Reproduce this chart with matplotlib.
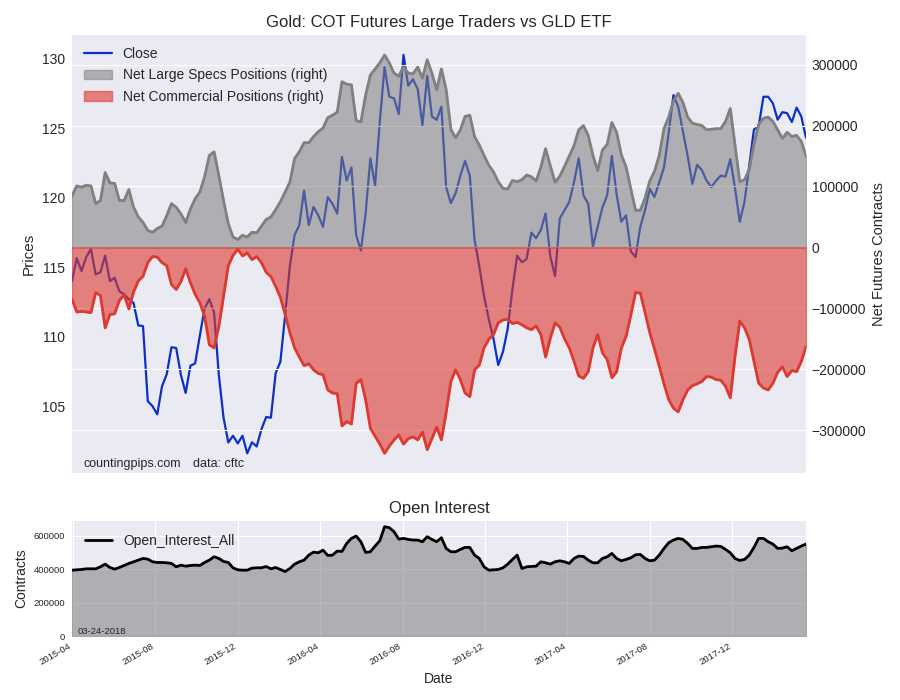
import numpy as np
import pandas as pd
import matplotlib
matplotlib.use('Agg')
import matplotlib.pyplot as plt
import matplotlib.dates as mdates
from matplotlib.ticker import MultipleLocator
from matplotlib.patches import Patch
from matplotlib.lines import Line2D

plt.style.use('seaborn-v0_8-darkgrid')
plt.rcParams['font.family'] = ['Liberation Sans', 'DejaVu Sans']

# weekly COT report dates (tuesdays)
dates = pd.date_range('2015-03-31', '2018-03-20', freq='7D')

# GLD close
close = [114.00, 115.66, 114.72, 115.73, 116.30, 114.48, 114.64, 115.83, 114.00, 114.24,
         113.27, 113.06, 112.70, 112.42, 110.81, 110.76, 105.36, 105.00, 104.41, 106.42,
         107.30, 109.24, 109.19, 107.25, 105.95, 107.91, 108.08, 110.09, 112.04, 112.70,
         111.75, 107.25, 104.17, 102.39, 102.87, 102.32, 102.87, 101.61, 102.40, 102.10,
         103.34, 104.22, 104.17, 107.37, 108.20, 111.52, 115.07, 117.32, 118.03, 120.52,
         118.03, 119.34, 118.74, 117.91, 120.05, 119.57, 118.86, 122.94, 121.23, 122.18,
         117.32, 116.21, 118.86, 122.84, 120.88, 125.50, 129.41, 127.27, 127.16, 126.02,
         130.28, 128.06, 128.53, 127.82, 125.21, 128.77, 125.85, 125.60, 126.56, 120.76,
         119.62, 120.33, 121.59, 122.65, 121.59, 116.97, 115.07, 112.94, 111.28, 109.86,
         107.96, 108.91, 110.57, 113.41, 115.83, 115.36, 115.59, 117.49, 117.09, 117.68,
         118.86, 115.78, 114.36, 118.51, 119.10, 119.69, 121.11, 122.84, 120.17, 119.57,
         116.49, 117.91, 119.29, 120.17, 123.01, 120.24, 118.27, 118.74, 116.14, 115.73,
         117.91, 119.10, 120.64, 120.05, 121.11, 122.18, 124.67, 127.39, 126.56, 124.79,
         123.01, 121.00, 122.37, 121.99, 121.23, 120.76, 121.23, 121.59, 121.52, 122.77,
         120.71, 118.27, 119.69, 122.30, 124.91, 125.14, 127.27, 127.27, 126.80, 125.62,
         126.16, 126.09, 125.45, 126.49, 125.85, 124.31]

# net positions, thousands of contracts
large_specs = [85, 101, 99, 102, 101, 72, 77, 123, 106, 105,
               77, 77, 95, 66, 50, 41, 28, 25, 31, 35,
               52, 72, 66, 55, 41, 63, 80, 91, 116, 151,
               157, 118, 77, 39, 17, 13, 20, 17, 25, 24,
               35, 46, 50, 62, 75, 91, 107, 146, 157, 172,
               172, 182, 190, 196, 213, 217, 222, 272, 268, 267,
               208, 206, 250, 283, 293, 303, 316, 303, 286, 281,
               297, 286, 285, 296, 278, 308, 286, 259, 293, 259,
               194, 180, 193, 215, 217, 182, 168, 151, 135, 124,
               108, 97, 96, 110, 108, 111, 119, 116, 109, 132,
               162, 134, 107, 117, 133, 150, 167, 193, 200, 184,
               151, 126, 160, 169, 205, 189, 152, 132, 96, 61,
               61, 81, 109, 125, 151, 195, 214, 241, 253, 238,
               214, 204, 202, 200, 193, 194, 195, 195, 207, 228,
               168, 108, 111, 128, 170, 202, 212, 214, 207, 193,
               179, 189, 182, 184, 174, 150]

commercials = [-85, -106, -105, -106, -107, -74, -79, -132, -110, -109,
               -87, -78, -101, -73, -55, -47, -25, -15, -16, -25,
               -30, -61, -69, -56, -35, -58, -77, -91, -113, -160,
               -165, -130, -80, -30, -13, -3, -14, -9, -20, -15,
               -25, -41, -48, -64, -82, -110, -140, -165, -180, -194,
               -191, -201, -207, -209, -234, -239, -240, -293, -286, -290,
               -223, -217, -250, -297, -310, -323, -338, -326, -316, -308,
               -323, -314, -311, -316, -303, -332, -314, -295, -316, -271,
               -220, -201, -217, -239, -245, -201, -193, -165, -151, -143,
               -124, -119, -118, -125, -123, -127, -132, -135, -129, -143,
               -180, -149, -124, -131, -150, -165, -187, -211, -215, -204,
               -165, -143, -173, -184, -214, -204, -165, -146, -111, -74,
               -75, -107, -140, -167, -195, -224, -250, -264, -270, -250,
               -234, -227, -224, -220, -212, -213, -217, -218, -228, -247,
               -179, -121, -132, -151, -187, -223, -231, -234, -223, -205,
               -196, -212, -202, -204, -187, -163]

open_interest = [394, 396, 398, 402, 402, 402, 414, 430, 410, 400,
                 410, 422, 434, 444, 454, 464, 460, 444, 440, 440,
                 438, 434, 414, 424, 418, 422, 424, 422, 440, 454,
                 474, 464, 446, 440, 408, 396, 394, 394, 406, 408,
                 408, 416, 402, 410, 398, 386, 404, 430, 444, 454,
                 484, 502, 498, 514, 482, 484, 508, 506, 554, 584,
                 598, 564, 500, 504, 538, 570, 654, 648, 624, 580,
                 584, 578, 574, 574, 564, 594, 578, 564, 588, 524,
                 504, 504, 518, 530, 530, 484, 464, 414, 394, 396,
                 398, 408, 430, 458, 484, 404, 414, 416, 418, 444,
                 438, 430, 444, 450, 444, 434, 464, 478, 476, 454,
                 438, 438, 464, 474, 494, 464, 450, 458, 468, 486,
                 488, 464, 450, 454, 484, 524, 558, 574, 584, 578,
                 554, 524, 524, 530, 530, 534, 538, 536, 518, 498,
                 464, 452, 458, 484, 530, 584, 584, 564, 550, 524,
                 526, 534, 510, 524, 538, 550]

specs = np.array(large_specs) * 1000
comm = np.array(commercials) * 1000
oi = np.array(open_interest) * 1000

blue = '#0a30c8'
grey = '#808080'
red = '#dc3a31'

fig = plt.figure(figsize=(9, 7), dpi=100)
ax = fig.add_axes([0.08, 0.324, 0.8156, 0.626])
ax_oi = fig.add_axes([0.08, 0.0914, 0.8156, 0.164], sharex=ax)
ax2 = ax.twinx()

# prices on the left, positions on the right
ax.plot(dates, close, color=blue, lw=1.6)
ax2.fill_between(dates, 0, specs, color=grey, alpha=0.55, lw=1)
ax2.plot(dates, specs, color=grey, lw=2)
ax2.fill_between(dates, 0, comm, color=red, alpha=0.6, lw=1)
ax2.plot(dates, comm, color=red, lw=2)

ax.grid(False)
ax2.xaxis.grid(False)
ax2.yaxis.set_major_locator(MultipleLocator(100000))
ax.set_xlim(dates[0], dates[-1])
ax.tick_params(axis='y', labelsize=10, pad=5)
ax2.tick_params(axis='y', labelsize=10, pad=4)
plt.setp(ax.get_xticklabels(), visible=False)
ax.set_ylabel('Prices', fontsize=11)
ax2.set_ylabel('Net Futures Contracts', fontsize=10.5)
ax.set_title('Gold: COT Futures Large Traders vs GLD ETF', fontsize=12)

handles = [Line2D([], [], color=blue, lw=1.6),
           Patch(facecolor=grey, alpha=0.55, edgecolor=grey),
           Patch(facecolor=red, alpha=0.6, edgecolor=red)]
labels = ['Close', 'Net Large Specs Positions (right)', 'Net Commercial Positions (right)']
ax2.legend(handles, labels, loc='upper left', fontsize=10, frameon=False,
           labelspacing=0.55, borderaxespad=0.45)

ax2.text(0.015, 0.014, 'countingpips.com', transform=ax2.transAxes, fontsize=9)
ax2.text(0.165, 0.014, 'data: cftc', transform=ax2.transAxes, fontsize=9)

# open interest panel
ax_oi.fill_between(dates, 0, oi, color=grey, alpha=0.55)
ax_oi.plot(dates, oi, color='black', lw=2, label='Open_Interest_All')
ax_oi.set_ylim(bottom=0)
ax_oi.yaxis.set_major_locator(MultipleLocator(200000))
ax_oi.xaxis.set_major_locator(mdates.MonthLocator(bymonth=[4, 8, 12]))
ax_oi.xaxis.set_major_formatter(mdates.DateFormatter('%Y-%m'))
ax_oi.tick_params(axis='y', labelsize=6.8, pad=5)
ax_oi.tick_params(axis='x', labelsize=6.8, pad=4)
plt.setp(ax_oi.get_xticklabels(), rotation=30, ha='right')
ax_oi.set_ylabel('Contracts', fontsize=10)
ax_oi.set_xlabel('Date', fontsize=10)
ax_oi.set_title('Open Interest', fontsize=12)
ax_oi.legend(loc='upper left', fontsize=10, frameon=False)
ax_oi.text(0.007, 0.015, '03-24-2018', transform=ax_oi.transAxes, fontsize=6.8)

fig.savefig('out.png', dpi=100)
